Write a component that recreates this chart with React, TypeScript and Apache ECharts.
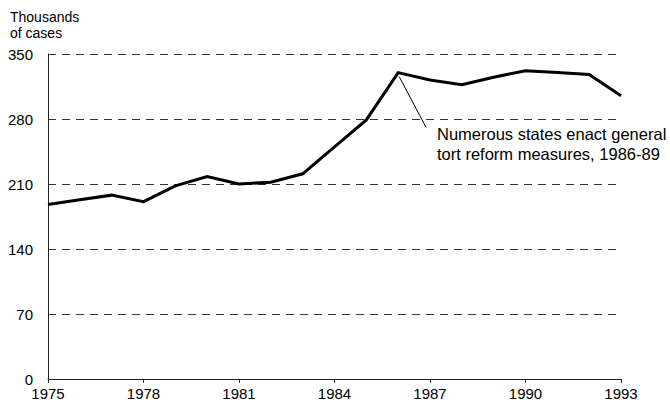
import React, { useEffect, useRef } from "react";
import * as echarts from "echarts";

const years = [
  "1975", "1976", "1977", "1978", "1979", "1980", "1981", "1982", "1983", "1984",
  "1985", "1986", "1987", "1988", "1989", "1990", "1991", "1992", "1993",
];
const cases = [188, 193, 198, 191, 208, 218, 210, 212, 221, 250, 279, 330, 322, 317, 325, 332, 330, 328, 305];
const yTicks = { min: 0, max: 350, interval: 70 };
const titleLines = ["Thousands", "of cases"];
const annotationLines = ["Numerous states enact general", "tort reform measures, 1986-89"];
const annotationYear = "1986";

const FONT = "'Liberation Sans', Arial, sans-serif";

export default function App() {
  const ref = useRef<HTMLDivElement>(null);
  useEffect(() => {
    if (!ref.current) return;
    const chart = echarts.init(ref.current, undefined, { renderer: "svg" });
    const title = {
      type: "text",
      left: 10,
      top: 9,
      style: { text: titleLines.join("\n"), fontSize: 14, lineHeight: 16, fill: "#000", fontFamily: FONT },
    };
    chart.setOption({
      animation: false,
      backgroundColor: "#ffffff",
      textStyle: { fontFamily: FONT },
      grid: { left: 48, right: 49, top: 54, bottom: 33, containLabel: false },
      xAxis: {
        type: "category",
        data: years,
        boundaryGap: false,
        axisLine: { show: true, lineStyle: { color: "#222", width: 1 } },
        axisTick: { show: true, interval: 2, length: 4, inside: false, lineStyle: { color: "#222" } },
        axisLabel: { interval: 2, color: "#000", fontSize: 15, margin: 7, fontFamily: FONT },
        splitLine: { show: false },
      },
      yAxis: {
        type: "value",
        min: yTicks.min,
        max: yTicks.max,
        interval: yTicks.interval,
        axisLine: { show: true, lineStyle: { color: "#222", width: 1 } },
        axisTick: { show: false },
        axisLabel: { color: "#000", fontSize: 15, margin: 15, fontFamily: FONT },
        splitLine: { show: true, lineStyle: { color: "#333", width: 1, type: [8, 6] } },
      },
      series: [
        {
          type: "line",
          data: cases,
          showSymbol: false,
          symbol: "none",
          lineStyle: { color: "#000", width: 3, join: "miter" },
          z: 5,
        },
      ],
      graphic: [title],
    });
    const idx = years.indexOf(annotationYear);
    const p = chart.convertToPixel({ seriesIndex: 0 }, [idx, cases[idx]]) as number[];
    chart.setOption({
      graphic: [
        title,
        {
          type: "line",
          shape: { x1: p[0] + 1, y1: p[1] + 4, x2: p[0] + 28, y2: p[1] + 55 },
          style: { stroke: "#000", lineWidth: 1 },
          z: 10,
        },
        {
          type: "text",
          x: 437,
          y: 124,
          style: {
            text: annotationLines.join("\n"),
            fontSize: 16.5,
            lineHeight: 20,
            fill: "#000",
            fontFamily: FONT,
          },
          z: 10,
        },
      ],
    });
    return () => chart.dispose();
  }, []);
  return (
    <div
      ref={ref}
      style={{ position: "fixed", left: 0, top: 0, width: 670, height: 412 }}
    />
  );
}
